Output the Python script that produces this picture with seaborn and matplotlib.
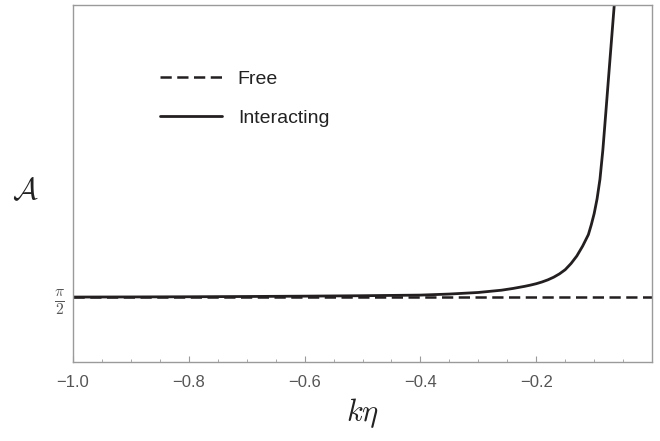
import numpy as np
import pandas as pd
import seaborn as sns
import matplotlib
matplotlib.use("Agg")
import matplotlib.pyplot as plt
from matplotlib.ticker import MultipleLocator

sns.set_style("white")
plt.rcParams['font.family'] = ['Liberation Sans', 'DejaVu Sans']
plt.rcParams['mathtext.fontset'] = 'cm'

# Data
k_eta = [-1.0, -0.9, -0.8, -0.7, -0.6, -0.5, -0.4, -0.35, -0.3, -0.26, -0.24,
         -0.22, -0.21, -0.2, -0.19, -0.18, -0.17, -0.16, -0.15, -0.14, -0.13,
         -0.12, -0.11, -0.105, -0.10, -0.095, -0.09, -0.085, -0.08, -0.075,
         -0.07, -0.065, -0.06]
interacting = [1.5708, 1.5715, 1.5725, 1.5740, 1.5760, 1.5785, 1.582, 1.588,
               1.597, 1.610, 1.620, 1.632, 1.639, 1.647, 1.657, 1.669, 1.684,
               1.703, 1.727, 1.762, 1.805, 1.861, 1.927, 1.983, 2.047, 2.131,
               2.243, 2.410, 2.618, 2.830, 3.040, 3.250, 3.460]
free_x = [-1.0, 0.0]
free_y = [np.pi / 2, np.pi / 2]

df_int = pd.DataFrame({'k_eta': k_eta, 'A': interacting})
df_free = pd.DataFrame({'k_eta': free_x, 'A': free_y})

fig = plt.figure(figsize=(6.6, 4.41), dpi=100)
ax = fig.add_axes([0.1106, 0.179, 0.8774, 0.8097])

line_col = '#231f20'
sns.lineplot(data=df_free, x='k_eta', y='A', ax=ax, color=line_col, lw=1.8,
             linestyle=(0, (4.5, 2.2)), label='Free')
sns.lineplot(data=df_int, x='k_eta', y='A', ax=ax, color=line_col, lw=2.0,
             label='Interacting')

ax.set_xlim(-1.0, 0.0)
ax.set_ylim(1.2, 3.237)

frame_col = '#9a9a9a'
for s in ax.spines.values():
    s.set_color(frame_col)
    s.set_linewidth(1.0)

ax.xaxis.set_major_locator(MultipleLocator(0.2))
ax.xaxis.set_minor_locator(MultipleLocator(0.05))
ax.set_xticks([-1.0, -0.8, -0.6, -0.4, -0.2])
ax.set_xticklabels(['\u22121.0', '\u22120.8', '\u22120.6', '\u22120.4', '\u22120.2'])
ax.set_yticks([np.pi / 2])
ax.set_yticklabels([r'$\frac{\pi}{2}$'], fontsize=16)
ax.tick_params(axis='both', which='both', direction='in', colors=frame_col,
               labelcolor='#555555', top=False, right=False, bottom=True,
               left=True)
ax.tick_params(axis='x', which='major', length=4, width=0.8, labelsize=12, pad=9)
ax.tick_params(axis='x', which='minor', length=2, width=0.6)
ax.tick_params(axis='y', which='major', length=4, width=0.8, pad=6)

ax.set_xlabel(r'$k\eta$', fontsize=22, color='#222222', labelpad=5)
ax.set_ylabel(r'$\mathcal{A}$', fontsize=22, color='#222222', rotation=0,
              va='center', ha='center')
ax.yaxis.set_label_coords(-0.083, 0.48)

leg = ax.legend(loc='upper left', bbox_to_anchor=(0.120, 0.866), frameon=False,
                fontsize=14, handlelength=3.2, handletextpad=0.8,
                labelspacing=1.1)
for t in leg.get_texts():
    t.set_color('#222222')

fig.savefig('out.png', dpi=100)
